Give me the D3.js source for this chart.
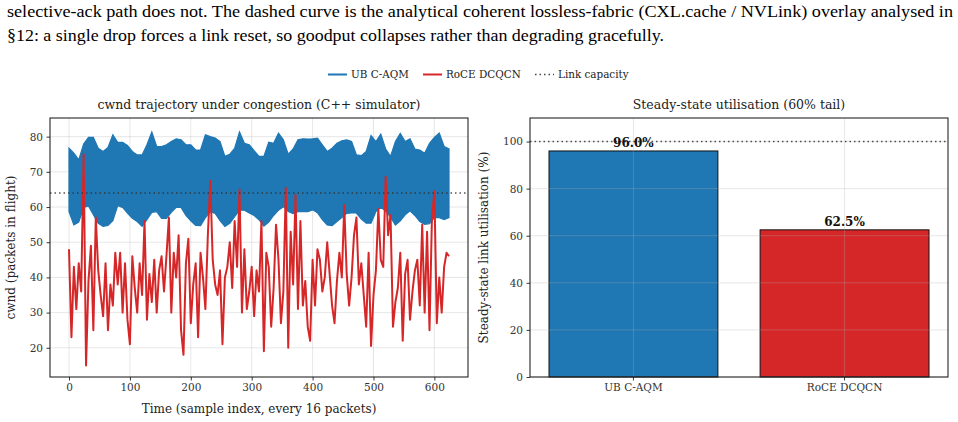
<!DOCTYPE html>
<html>
<head>
<meta charset="utf-8">
<script src="https://cdn.jsdelivr.net/npm/d3@7"></script>
<style>
  body { margin: 0; background: #fff; }
  svg { display: block; }
</style>
</head>
<body>
<script>
// ---- data ----
const seriesNames = ["UB C-AQM", "RoCE DCQCN"];
const seriesColors = ["#1f77b4", "#d62728"];
const linkCapacity = 64;

// RoCE DCQCN cwnd, one reading every 4 samples
const redStep = 4;
const redCwnd = [
  48,23,43,31,44,36,75,15,39,49, 25,57,42,35,29,44,25,38,32,47,
  38,47,30,44,28,21,46,37,30,44, 35,56,28,41,33,45,30,42,
  46,36,46,57,30,47,40,52,25,18, 44,51,27,38,44,23,47,40,31,52,
  67.5,45,38,35,42,21,40,43,50,37, 56,43,65,30,48,31,36,43,29,
  42,36,56,19,47,43,26,37,55,45, 27,36,65.5,20,53,38,63.5,31,56,32,
  39,26,22,45,32,48,45,36,40,50, 41,32,27,39,47,40,60.5,41,32,
  40,52,57,38,44,35,26,47,20.5,35, 42,59.5,45,43,68.7,52,57.7,26,33,37,
  47,22,41,45,28,36,42,45,32,55, 30,53,25,57,64.5,27,40,30,43,47, 46
];

// UB C-AQM cwnd oscillates every sample: envelope read every 8 samples
const blueStep = 8;
const blueUpper = [
  76.7,75.3,73.4,77.9,79.8,79.8,76.7,75.8,76.9,80.5,78.4,78.4,77.5,75.8,74.8,74.8,77.7,81.3,77.2,
  77.2,77.7,78.6,79.4,79.1,77.7,77.7,76.2,76.2,80.5,80.0,79.6,78.6,74.4,75.0,76.7,81.3,78.1,77.7,76.0,
  74.4,74.4,78.4,78.1,81.0,79.1,75.0,76.5,79.1,79.4,79.3,79.4,79.6,77.7,75.8,76.7,78.1,78.8,79.1,
  78.6,74.8,74.6,75.8,80.3,78.6,80.7,76.5,74.4,78.6,80.9,78.6,79.4,76.5,76.2,75.3,78.1,79.8,81.0,77.2,76.5
];
const blueLower = [
  58.7,54.9,55.7,59.9,60.3,57.8,55.4,54.5,54.8,56.1,60.4,59.9,58.3,56.8,55.9,54.5,56.4,58.5,58.7,
  56.8,56.8,58.5,59.9,59.9,57.6,56.1,54.8,54.7,57.0,58.7,58.2,56.1,54.5,55.4,57.3,59.1,59.1,58.3,57.6,
  56.4,54.6,55.7,57.6,59.1,60.1,58.7,58.1,58.7,58.7,58.7,59.2,58.4,56.4,54.9,54.7,55.9,57.0,58.2,
  58.3,58.3,56.6,55.4,55.4,58.7,59.9,58.9,57.1,54.9,56.1,57.8,58.9,57.6,55.9,55.1,55.3,57.0,57.0,56.4,57.0
];

const xTicksLeft = [0, 100, 200, 300, 400, 500, 600];
const yTicksLeft = [20, 30, 40, 50, 60, 70, 80];

const utilisation = [96.0, 62.5];
const yTicksRight = [0, 20, 40, 60, 80, 100];

const paragraph = [
  "selective-ack path does not. The dashed curve is the analytical coherent lossless-fabric (CXL.cache / NVLink) overlay analysed in",
  "\u00a712: a single drop forces a link reset, so goodput collapses rather than degrading gracefully."
];

// ---- setup ----
const width = 958, height = 422;
const font = "'DejaVu Serif', serif";
const svg = d3.select("body").append("svg")
    .attr("width", width)
    .attr("height", height);

// paragraph text above the figure
svg.append("text")
    .attr("x", 7).attr("y", 17)
    .attr("textLength", 946).attr("lengthAdjust", "spacingAndGlyphs")
    .style("font-family", "'Liberation Serif', serif")
    .style("font-size", "16px")
    .text(paragraph[0]);
svg.append("text")
    .attr("x", 7).attr("y", 41)
    .attr("textLength", 657).attr("lengthAdjust", "spacingAndGlyphs")
    .style("font-family", "'Liberation Serif', serif")
    .style("font-size", "16px")
    .text(paragraph[1]);

// legend
const legend = svg.append("g").attr("class", "legend");
const legendItems = [
  {label: seriesNames[0], color: seriesColors[0], x: 328, dash: null},
  {label: seriesNames[1], color: seriesColors[1], x: 423, dash: null},
  {label: "Link capacity", color: "#444", x: 535, dash: "1.5,3"}
];
legendItems.forEach(function(d) {
    legend.append("line")
        .attr("x1", d.x).attr("x2", d.x + 19)
        .attr("y1", 74.5).attr("y2", 74.5)
        .attr("stroke", d.color)
        .attr("stroke-width", d.dash ? 1.5 : 2)
        .attr("stroke-dasharray", d.dash);
    legend.append("text")
        .attr("x", d.x + 23).attr("y", 78.3)
        .style("font-family", font)
        .style("font-size", "10.4px")
        .style("fill", "#222")
        .text(d.label);
});

function drawGrid(g, x, y, xt, yt, top, bottom, left, right) {
    g.selectAll(".gx").data(xt).enter().append("line")
        .attr("x1", d => x(d)).attr("x2", d => x(d))
        .attr("y1", top).attr("y2", bottom)
        .attr("stroke", "#b0b0b0").attr("stroke-opacity", 0.3).attr("stroke-width", 1);
    g.selectAll(".gy").data(yt).enter().append("line")
        .attr("x1", left).attr("x2", right)
        .attr("y1", d => y(d)).attr("y2", d => y(d))
        .attr("stroke", "#b0b0b0").attr("stroke-opacity", 0.3).attr("stroke-width", 1);
}

function styleAxis(a) {
    a.select(".domain").remove();
    a.selectAll("line").attr("stroke", "#222").attr("stroke-width", 0.9);
    a.selectAll("text")
        .style("font-family", font)
        .style("font-size", "10.5px")
        .style("fill", "#333");
}

function frame(g, left, right, top, bottom) {
    g.append("rect")
        .attr("x", left).attr("y", top)
        .attr("width", right - left).attr("height", bottom - top)
        .attr("fill", "none").attr("stroke", "#111").attr("stroke-width", 1);
}

/* ------- LEFT: cwnd trajectory ------- */
const L = {left: 50, right: 468, top: 118, bottom: 377};
const lastIndex = redStep * (redCwnd.length - 1);
const pad = 0.05 * lastIndex;
const xL = d3.scaleLinear().domain([-pad, lastIndex + pad]).range([L.left, L.right]);
const yL = d3.scaleLinear().domain([11.7, 85.3]).range([L.bottom, L.top]);

const left = svg.append("g").attr("class", "left");
drawGrid(left, xL, yL, xTicksLeft, yTicksLeft, L.top, L.bottom, L.left, L.right);

const band = d3.area()
    .x((d, i) => xL(i * blueStep))
    .y0((d, i) => yL(blueLower[i]))
    .y1(d => yL(d));
left.append("path")
    .datum(blueUpper)
    .attr("d", band)
    .attr("fill", seriesColors[0])
    .attr("stroke", seriesColors[0])
    .attr("stroke-width", 1.2);

const redLine = d3.line()
    .x((d, i) => xL(i * redStep))
    .y(d => yL(d));
left.append("path")
    .datum(redCwnd)
    .attr("d", redLine)
    .attr("fill", "none")
    .attr("stroke", seriesColors[1])
    .attr("stroke-width", 2)
    .attr("stroke-linejoin", "round");

left.append("line")
    .attr("x1", L.left).attr("x2", L.right)
    .attr("y1", yL(linkCapacity)).attr("y2", yL(linkCapacity))
    .attr("stroke", "#333").attr("stroke-opacity", 0.85)
    .attr("stroke-width", 1.5).attr("stroke-dasharray", "1.5,3");

const axBL = left.append("g")
    .attr("transform", "translate(0," + L.bottom + ")")
    .call(d3.axisBottom(xL).tickValues(xTicksLeft).tickSize(3.5).tickPadding(3.5));
styleAxis(axBL);
const axLL = left.append("g")
    .attr("transform", "translate(" + L.left + ",0)")
    .call(d3.axisLeft(yL).tickValues(yTicksLeft).tickSize(3.5).tickPadding(3.5));
styleAxis(axLL);
frame(left, L.left, L.right, L.top, L.bottom);

left.append("text")
    .attr("x", (L.left + L.right) / 2).attr("y", 109)
    .attr("text-anchor", "middle")
    .style("font-family", font).style("font-size", "12.5px").style("fill", "#222")
    .text("cwnd trajectory under congestion (C++ simulator)");
left.append("text")
    .attr("x", (L.left + L.right) / 2).attr("y", 413)
    .attr("text-anchor", "middle")
    .style("font-family", font).style("font-size", "12px").style("fill", "#222")
    .text("Time (sample index, every 16 packets)");
left.append("text")
    .attr("transform", "translate(15," + (L.top + L.bottom) / 2 + ") rotate(-90)")
    .attr("text-anchor", "middle")
    .style("font-family", font).style("font-size", "12px").style("fill", "#222")
    .text("cwnd (packets in flight)");

/* ------- RIGHT: steady-state utilisation ------- */
const R = {left: 530, right: 948, top: 118, bottom: 377};
const xR = d3.scaleBand().domain(seriesNames).range([R.left, R.right])
    .paddingInner(0.2).paddingOuter(0.09);
const yR = d3.scaleLinear().domain([0, 110]).range([R.bottom, R.top]);

const right = svg.append("g").attr("class", "right");
right.selectAll("rect.bar")
    .data(utilisation)
    .enter().append("rect")
    .attr("class", "bar")
    .attr("x", (d, i) => xR(seriesNames[i]))
    .attr("width", xR.bandwidth())
    .attr("y", d => yR(d))
    .attr("height", d => yR(0) - yR(d))
    .attr("fill", (d, i) => seriesColors[i])
    .attr("stroke", "#111").attr("stroke-width", 1);

drawGrid(right, d => xR(d) + xR.bandwidth() / 2, yR, seriesNames, yTicksRight,
    R.top, R.bottom, R.left, R.right);

right.append("line")
    .attr("x1", R.left).attr("x2", R.right)
    .attr("y1", yR(100)).attr("y2", yR(100))
    .attr("stroke", "#333").attr("stroke-opacity", 0.85)
    .attr("stroke-width", 1.5).attr("stroke-dasharray", "1.5,3");

right.selectAll("text.val")
    .data(utilisation)
    .enter().append("text")
    .attr("class", "val")
    .attr("x", (d, i) => xR(seriesNames[i]) + xR.bandwidth() / 2)
    .attr("y", d => yR(d) - 3.5)
    .attr("text-anchor", "middle")
    .style("font-family", font).style("font-size", "12px")
    .style("font-weight", "bold").style("fill", "#111")
    .text(d => d.toFixed(1) + "%");

const axBR = right.append("g")
    .attr("transform", "translate(0," + R.bottom + ")")
    .call(d3.axisBottom(xR).tickSize(3.5).tickPadding(3.5));
styleAxis(axBR);
const axLR = right.append("g")
    .attr("transform", "translate(" + R.left + ",0)")
    .call(d3.axisLeft(yR).tickValues(yTicksRight).tickSize(3.5).tickPadding(3.5));
styleAxis(axLR);
frame(right, R.left, R.right, R.top, R.bottom);

right.append("text")
    .attr("x", (R.left + R.right) / 2).attr("y", 109)
    .attr("text-anchor", "middle")
    .style("font-family", font).style("font-size", "12.5px").style("fill", "#222")
    .text("Steady-state utilisation (60% tail)");
right.append("text")
    .attr("transform", "translate(488," + (R.top + R.bottom) / 2 + ") rotate(-90)")
    .attr("text-anchor", "middle")
    .style("font-family", font).style("font-size", "12px").style("fill", "#222")
    .text("Steady-state link utilisation (%)");
</script>
</body>
</html>
